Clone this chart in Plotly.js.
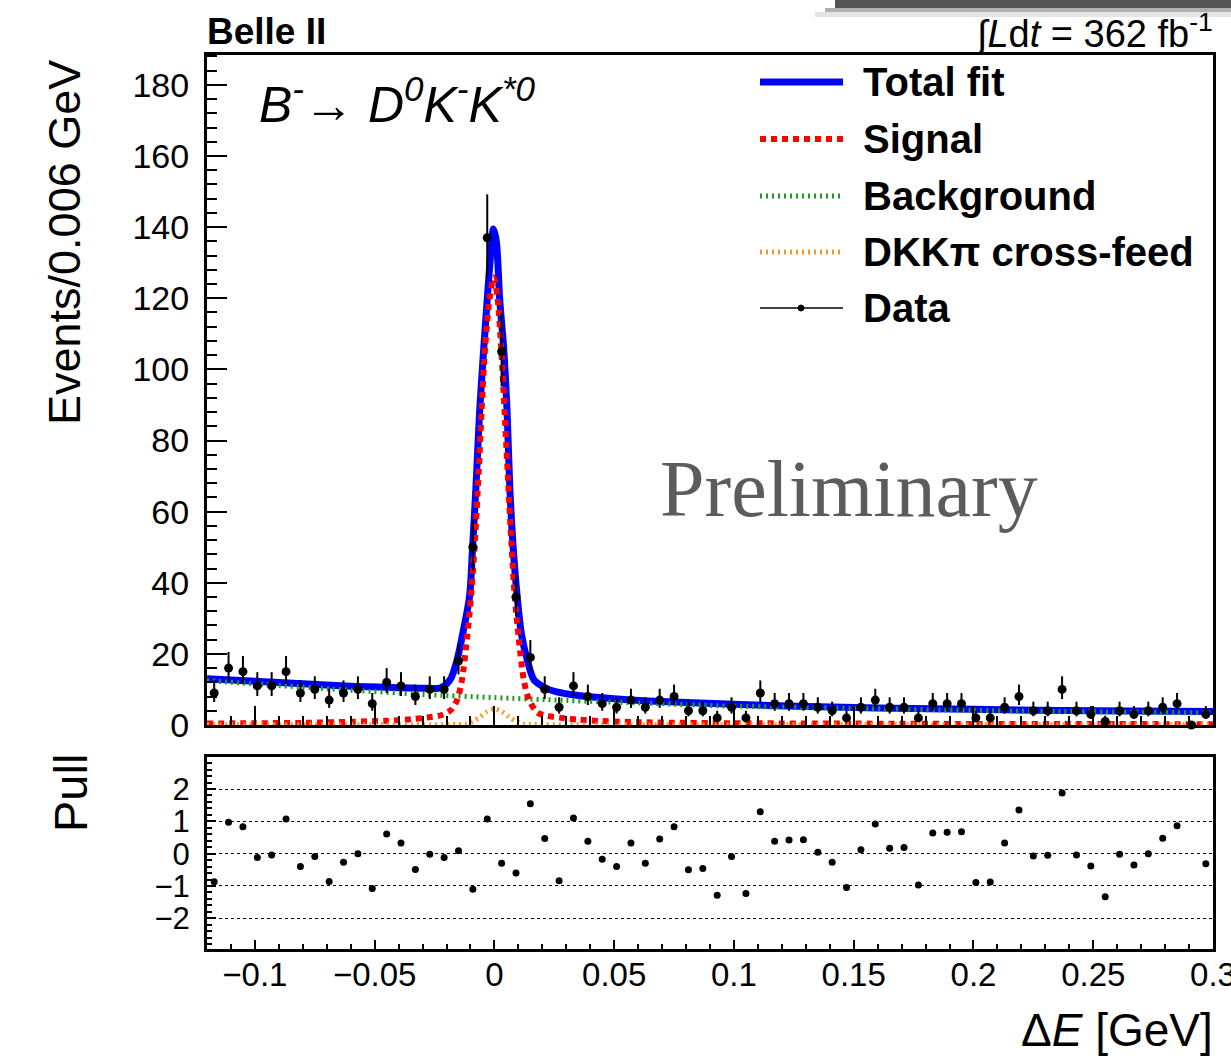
<!DOCTYPE html>
<html>
<head>
<meta charset="utf-8">
<script src="https://cdn.plot.ly/plotly-3.0.1.min.js"></script>
<style>html,body{margin:0;padding:0;background:#fff;}#chart{width:1231px;height:1062px;}</style>
</head>
<body>
<div id="chart"></div>
<script>
// ---- Data ----
const binCenters = [-0.117,-0.111,-0.105,-0.099,-0.093,-0.087,-0.081,-0.075,-0.069,-0.063,
  -0.057,-0.051,-0.045,-0.039,-0.033,-0.027,-0.021,-0.015,-0.009,-0.003,
  0.003,0.009,0.015,0.021,0.027,0.033,0.039,0.045,0.051,0.057,
  0.063,0.069,0.075,0.081,0.087,0.093,0.099,0.105,0.111,0.117,
  0.123,0.129,0.135,0.141,0.147,0.153,0.159,0.165,0.171,0.177,
  0.183,0.189,0.195,0.201,0.207,0.213,0.219,0.225,0.231,0.237,
  0.243,0.249,0.255,0.261,0.267,0.273,0.279,0.285,0.291,0.297];
const dataCounts = [9,16,15,11,11,15,9,10,7,9,
  10,6,12,11,8,10,10,18,50,137,
  105,36,19,10,5,11,8,6,5,7,
  5,7,8,4,4,2,5,2,9,6,
  6,6,5,4,2,5,7,5,5,2,
  6,6,6,2,2,5,8,4,4,10,
  4,3,1,4,3,4,5,6,0,3];
const pullValues = [-0.87,0.97,0.83,-0.12,-0.04,1.07,-0.40,-0.09,-0.86,-0.27,
  0.0,-1.08,0.61,0.33,-0.49,-0.02,-0.12,0.09,-1.10,1.07,
  -0.30,-0.60,1.54,0.47,-0.84,1.10,0.38,-0.17,-0.40,0.33,
  -0.30,0.45,0.83,-0.50,-0.46,-1.29,-0.09,-1.23,1.30,0.38,
  0.42,0.43,0.04,-0.27,-1.05,0.12,0.92,0.17,0.19,-0.97,
  0.64,0.66,0.68,-0.89,-0.88,0.33,1.35,-0.07,-0.05,1.88,
  -0.04,-0.38,-1.33,-0.02,-0.35,0.0,0.48,0.86,null,-0.31];

// Fit curves
const totalX = [-0.12,-0.1,-0.08,-0.06,-0.045,-0.035,-0.027,-0.0226,-0.0185,-0.0156,-0.0129,-0.0104,-0.0091,-0.0077,-0.0062,-0.0045,-0.003,-0.0015,-0.0004,0.0008,0.0022,0.0039,0.0053,0.0064,0.0078,0.0095,0.0113,0.0137,0.0165,0.0214,0.026,0.035,0.05,0.07,0.1,0.13,0.16,0.2,0.25,0.3];
const totalY = [13.0,12.3,11.6,10.9,10.6,10.4,10.3,10.4,12.7,18.3,26.8,36.1,50.2,67.1,87.9,105.6,119.7,133.0,139.5,136.0,119.7,105.6,87.9,67.1,50.2,36.1,25.5,18.3,12.7,10.4,9.3,8.3,7.4,6.6,5.8,5.2,4.8,4.4,4.0,3.8];
const signalX = [-0.12,-0.1,-0.08,-0.06,-0.045,-0.035,-0.028,-0.022,-0.018,-0.0156,-0.0136,-0.0115,-0.0098,-0.0083,-0.0065,-0.0042,-0.002,-0.0003,0.0013,0.0029,0.005,0.007,0.0085,0.0102,0.0123,0.0144,0.0179,0.022,0.028,0.035,0.045,0.06,0.08,0.1,0.15,0.2,0.25,0.3];
const signalY = [0.4,0.5,0.6,0.9,1.2,1.6,2.1,2.8,4.3,7.0,12.5,24,36,50,72,103,120,125.8,120,105,78,52,36,24,12.5,7.2,3.5,2.6,2.0,1.5,1.1,0.8,0.6,0.5,0.4,0.3,0.3,0.2];
const bkgX = [-0.12,-0.09,-0.06,-0.03,0,0.03,0.06,0.1,0.15,0.2,0.25,0.3];
const bkgY = [12.5,11.1,9.8,8.6,7.7,6.9,6.2,5.3,4.7,4.1,3.7,3.4];
const xfeedX = [-0.12,-0.05,-0.015,-0.012,-0.009,-0.006,-0.003,0,0.003,0.006,0.009,0.012,0.015,0.05,0.3];
const xfeedY = [0.1,0.1,0.15,0.3,1.0,2.3,3.8,4.5,3.8,2.3,1.0,0.3,0.15,0.1,0.1];

// Poisson-style error bars derived from counts
const errUp = dataCounts.map(n => Math.sqrt(n + 0.25) + 0.5);
const errDn = dataCounts.map(n => Math.sqrt(n + 0.25) - 0.5);

// ---- Geometry helpers (pixel -> paper) ----
const L = 207, R = 1213, T = 55, B = 949;
const px = x => (x - L) / (R - L);
const py = y => (B - y) / (B - T);

const FONT = 'Liberation Sans, Arial, Helvetica, sans-serif';

const traces = [
  {x: totalX, y: totalY, mode: 'lines', line: {color: '#0000ff', width: 7, shape: 'spline', smoothing: 0.8}, xaxis: 'x', yaxis: 'y', hoverinfo: 'skip'},
  {x: bkgX, y: bkgY, mode: 'lines', line: {color: 'rgb(30,155,30)', width: 5, dash: '2px,4px', shape: 'spline', smoothing: 0.8}, xaxis: 'x', yaxis: 'y', hoverinfo: 'skip'},
  {x: signalX, y: signalY, mode: 'lines', line: {color: '#ff0000', width: 6, dash: '6px,5px', shape: 'spline', smoothing: 0.8}, xaxis: 'x', yaxis: 'y', hoverinfo: 'skip'},
  {x: xfeedX, y: xfeedY, mode: 'lines', line: {color: 'rgb(255,150,40)', width: 5, dash: '2px,4px', shape: 'spline', smoothing: 0.8}, xaxis: 'x', yaxis: 'y', hoverinfo: 'skip'},
  {x: binCenters, y: dataCounts, mode: 'markers', marker: {color: 'black', size: 9, symbol: 'circle'},
   error_y: {type: 'data', symmetric: false, array: errUp, arrayminus: errDn, thickness: 2, width: 0, color: 'black'},
   cliponaxis: false, xaxis: 'x', yaxis: 'y', hoverinfo: 'skip'},
  {x: binCenters, y: pullValues, mode: 'markers', marker: {color: 'black', size: 7}, xaxis: 'x2', yaxis: 'y2', hoverinfo: 'skip'}
];

const axisCommon = {
  showline: true, linewidth: 3, linecolor: 'black', mirror: true,
  showgrid: false, zeroline: false, ticks: 'inside', tickcolor: 'black', tickwidth: 2
};

const legendRows = [
  {y: 82, text: 'Total fit'},
  {y: 139, text: 'Signal'},
  {y: 196, text: 'Background'},
  {y: 252, text: 'DKKπ cross-feed'},
  {y: 308, text: 'Data'}
];

const shapes = [
  // screenshot shadow bar at top right
  {type: 'rect', xref: 'paper', yref: 'paper', x0: px(835), x1: px(1240), y0: py(0), y1: py(8), fillcolor: 'rgb(85,85,85)', line: {width: 0}, layer: 'above'},
  {type: 'rect', xref: 'paper', yref: 'paper', x0: px(825), x1: px(1240), y0: py(8), y1: py(12), fillcolor: 'rgba(110,110,110,0.55)', line: {width: 0}, layer: 'above'},
  {type: 'rect', xref: 'paper', yref: 'paper', x0: px(815), x1: px(1240), y0: py(12), y1: py(17), fillcolor: 'rgba(170,170,170,0.3)', line: {width: 0}, layer: 'above'},
  // legend samples
  {type: 'line', xref: 'paper', yref: 'paper', x0: px(760), x1: px(843), y0: py(82), y1: py(82), line: {color: '#0000ff', width: 7}},
  {type: 'line', xref: 'paper', yref: 'paper', x0: px(760), x1: px(843), y0: py(139), y1: py(139), line: {color: '#ff0000', width: 6, dash: '6px,5px'}},
  {type: 'line', xref: 'paper', yref: 'paper', x0: px(760), x1: px(843), y0: py(196), y1: py(196), line: {color: 'rgb(30,155,30)', width: 5, dash: '2px,4px'}},
  {type: 'line', xref: 'paper', yref: 'paper', x0: px(760), x1: px(843), y0: py(252), y1: py(252), line: {color: 'rgb(255,150,40)', width: 5, dash: '2px,4px'}},
  {type: 'line', xref: 'paper', yref: 'paper', x0: px(760), x1: px(843), y0: py(308), y1: py(308), line: {color: 'black', width: 1.5}},
  {type: 'circle', xref: 'paper', yref: 'paper', x0: px(798), x1: px(804), y0: py(305), y1: py(311), fillcolor: 'black', line: {color: 'black', width: 1}}
];

const annotations = [
  {xref: 'paper', yref: 'paper', x: px(205), y: py(31), xanchor: 'left', yanchor: 'middle', showarrow: false,
   text: '<b>Belle II</b>', font: {family: FONT, size: 37, color: 'black'}},
  {xref: 'paper', yref: 'paper', x: px(1215), y: py(31), xanchor: 'right', yanchor: 'middle', showarrow: false,
   text: '∫<i>L</i>d<i>t</i> = 362 fb<sup>-1</sup>', font: {family: FONT, size: 38, color: 'black'}},
  {xref: 'paper', yref: 'paper', x: px(257), y: py(101), xanchor: 'left', yanchor: 'middle', showarrow: false,
   text: '<i>B<sup>-</sup></i>→ <i>D<sup>0</sup>K<sup>-</sup>K<sup>*0</sup></i>', font: {family: FONT, size: 50, color: 'black'}},
  {xref: 'paper', yref: 'paper', x: px(849), y: py(489), xanchor: 'center', yanchor: 'middle', showarrow: false,
   text: 'Preliminary', font: {family: 'Liberation Serif, DejaVu Serif, serif', size: 80, color: '#5c5c5c'}},
  {xref: 'paper', yref: 'paper', x: px(65), y: py(243), xanchor: 'center', yanchor: 'middle', showarrow: false, textangle: -90,
   text: 'Events/0.006 GeV', font: {family: FONT, size: 45, color: 'black'}},
  {xref: 'paper', yref: 'paper', x: px(70), y: py(793), xanchor: 'center', yanchor: 'middle', showarrow: false, textangle: -90,
   text: 'Pull', font: {family: FONT, size: 47, color: 'black'}},
  {xref: 'paper', yref: 'paper', x: px(1215), y: py(1030), xanchor: 'right', yanchor: 'middle', showarrow: false,
   text: 'Δ<i>E</i> [GeV]', font: {family: FONT, size: 46, color: 'black'}}
].concat(legendRows.map(r => ({
  xref: 'paper', yref: 'paper', x: px(861), y: py(r.y), xanchor: 'left', yanchor: 'middle', showarrow: false,
  text: '<b>' + r.text + '</b>', font: {family: FONT, size: 40, color: 'black'}
})));

const layout = {
  width: 1231, height: 1062,
  margin: {l: L, r: 1231 - R, t: T, b: 1062 - B, pad: 0},
  paper_bgcolor: 'white', plot_bgcolor: 'white',
  showlegend: false,
  font: {family: FONT, color: 'black'},
  xaxis: Object.assign({}, axisCommon, {
    domain: [0, 1], anchor: 'y', range: [-0.12, 0.3000001], showticklabels: false,
    tick0: 0, dtick: 0.05, ticklen: 19,
    minor: {ticks: 'inside', dtick: 0.01, tick0: 0, ticklen: 9, tickwidth: 2, tickcolor: 'black', showgrid: false}
  }),
  yaxis: Object.assign({}, axisCommon, {
    domain: [py(725), 1], anchor: 'x', range: [0, 188.4],
    tick0: 0, dtick: 20, ticklen: 20, ticklabelstandoff: 8,
    tickfont: {family: FONT, size: 34, color: 'black'},
    minor: {ticks: 'inside', dtick: 4, tick0: 0, ticklen: 10, tickwidth: 2, tickcolor: 'black', showgrid: false}
  }),
  xaxis2: Object.assign({}, axisCommon, {
    domain: [0, 1], anchor: 'y2', range: [-0.12, 0.3000001],
    tick0: 0, dtick: 0.05, ticklen: 9, tickangle: 0, ticklabelstandoff: -6,
    ticklabeloverflow: 'allow',
    tickfont: {family: FONT, size: 33, color: 'black'},
    minor: {ticks: 'inside', dtick: 0.01, tick0: 0, ticklen: 5, tickwidth: 2, tickcolor: 'black', showgrid: false}
  }),
  yaxis2: Object.assign({}, axisCommon, {
    domain: [0, py(757)], anchor: 'x2', range: [-2.95, 2.99],
    tick0: 0, dtick: 1, ticklen: 9, ticklabelstandoff: 8,
    showgrid: true, gridcolor: 'black', griddash: 'dot', gridwidth: 1,
    tickfont: {family: FONT, size: 31, color: 'black'},
    minor: {ticks: 'inside', dtick: 0.2, tick0: 0, ticklen: 5, tickwidth: 2, tickcolor: 'black', showgrid: false}
  }),
  shapes: shapes,
  annotations: annotations
};

Plotly.newPlot('chart', traces, layout, {staticPlot: true, displayModeBar: false});
</script>
</body>
</html>
